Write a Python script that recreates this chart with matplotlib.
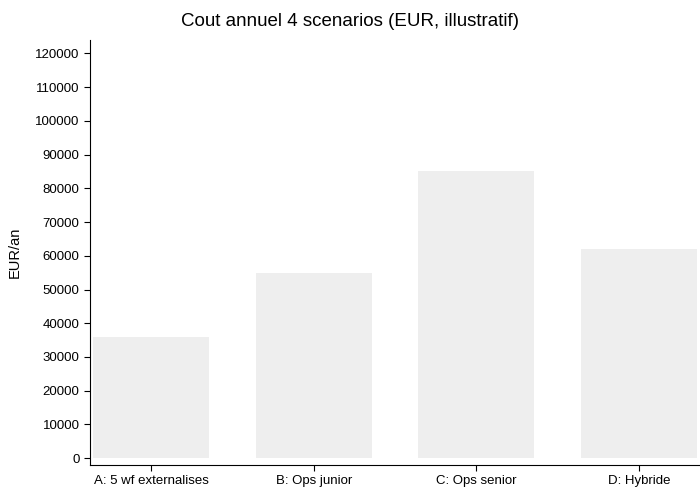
import matplotlib.pyplot as plt
import numpy as np

plt.rcParams['font.family'] = ['Liberation Sans', 'DejaVu Sans']

categories = ['A: 5 wf externalises', 'B: Ops junior', 'C: Ops senior', 'D: Hybride']
costs = [36000, 55000, 85000, 62000]
yticks = list(range(0, 120001, 10000))

fig = plt.figure(figsize=(7, 5), dpi=100)
ax = fig.add_axes([0.1286, 0.07, 0.8714, 0.85])
x = np.arange(len(categories))
ax.bar(x, costs, width=0.714, color='#eeeeee')
ax.set_xlim(-0.375, 3.375)
ax.set_ylim(-2050, 124000)
ax.set_xticks(x)
ax.set_xticklabels(categories, fontsize=9.5)
ax.set_yticks(yticks)
ax.set_yticklabels([str(t) for t in yticks], fontsize=9.5)
ax.set_ylabel('EUR/an', fontsize=10.5, labelpad=10)
ax.spines['top'].set_visible(False)
ax.spines['right'].set_visible(False)
ax.tick_params(direction='out', length=4)
fig.suptitle('Cout annuel 4 scenarios (EUR, illustratif)', fontsize=13.5, y=0.975)
fig.savefig('out.png')
